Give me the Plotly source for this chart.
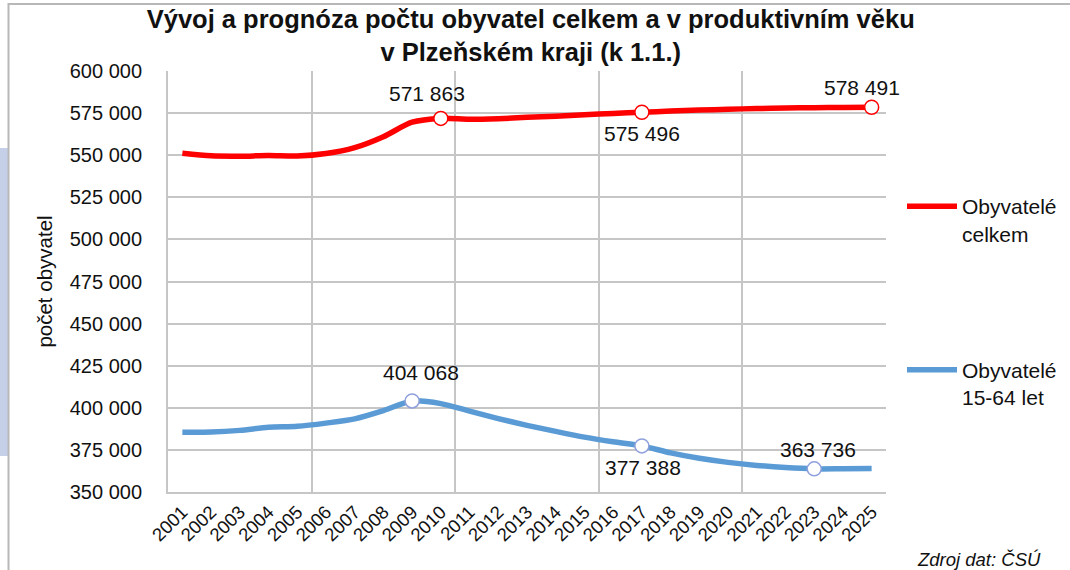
import plotly.graph_objects as go

years = ["2001", "2002", "2003", "2004", "2005", "2006", "2007", "2008", "2009", "2010",
         "2011", "2012", "2013", "2014", "2015", "2016", "2017", "2018", "2019", "2020",
         "2021", "2022", "2023", "2024", "2025"]
total = [551100, 549600, 549400, 549800, 549500, 551000, 554500, 561000, 569600, 571863,
         571300, 571700, 572500, 573200, 574000, 574800, 575496, 576200, 576800, 577300,
         577700, 578000, 578200, 578350, 578491]
working = [385500, 385600, 386600, 388400, 389000, 390900, 393400, 398300, 404068, 402500,
           398000, 393600, 389600, 386000, 382600, 379800, 377388, 373200, 370000, 367600,
           365800, 364500, 363736, 363800, 363950]
total_label_years = ["2010", "2017", "2025"]
working_label_years = ["2009", "2017", "2023"]

FONT = "Liberation Sans, Arial, sans-serif"
RED = "#ff0000"
BLUE = "#5b9bd5"
GRID = "#c6c6c6"

W, H = 1070, 570
L, R, T, B = 168, 886, 71, 492


def px_x(px):
    return (px - L) / (R - L)


def px_y(py):
    return (B - py) / (B - T)


fig = go.Figure()

fig.add_trace(go.Scatter(
    x=years, y=total, mode="lines", name="Obyvatelé<br>celkem",
    line=dict(color=RED, width=5.5, shape="spline", smoothing=0.8),
    legendgroup="a", hoverinfo="x+y"))
fig.add_trace(go.Scatter(
    x=years, y=working, mode="lines", name="Obyvatelé<br>15-64 let",
    line=dict(color=BLUE, width=5.5, shape="spline", smoothing=0.8),
    legendgroup="b", hoverinfo="x+y"))

tx = total_label_years
ty = [total[years.index(y)] for y in tx]
wx = working_label_years
wy = [working[years.index(y)] for y in wx]

fig.add_trace(go.Scatter(
    x=tx, y=ty, mode="markers", showlegend=False, cliponaxis=False,
    marker=dict(size=14, color="white", line=dict(color=RED, width=1.5))))
fig.add_trace(go.Scatter(
    x=wx, y=wy, mode="markers", showlegend=False, cliponaxis=False,
    marker=dict(size=14, color="white", line=dict(color="#8fa0dc", width=1.5))))

# overlay axis only for the vertical gridlines every 5 categories
fig.add_trace(go.Scatter(x=[], y=[], xaxis="x2", showlegend=False, hoverinfo="skip"))


def fmt(v):
    return f"{v:,}".replace(",", " ")


shifts_total = [(-14, 25), (0, -21), (-10, 20)]
shifts_work = [(9, 28), (1, -22), (4, 19)]
for (x, y), (xs, ys) in zip(zip(tx, ty), shifts_total):
    fig.add_annotation(x=years.index(x), y=y, text=fmt(y), showarrow=False,
                       xshift=xs, yshift=ys,
                       font=dict(family=FONT, size=21, color="#111111"))
for (x, y), (xs, ys) in zip(zip(wx, wy), shifts_work):
    fig.add_annotation(x=years.index(x), y=y, text=fmt(y), showarrow=False,
                       xshift=xs, yshift=ys,
                       font=dict(family=FONT, size=21, color="#111111"))

fig.add_annotation(xref="paper", yref="paper", x=px_x(1043), y=px_y(559),
                   xanchor="right", yanchor="middle", showarrow=False,
                   text="<i>Zdroj dat: ČSÚ</i>",
                   font=dict(family=FONT, size=18.5, color="#111111"))

# decorative frame elements
fig.add_shape(type="rect", xref="paper", yref="paper", x0=px_x(0), x1=px_x(8),
              y0=px_y(148), y1=px_y(456), fillcolor="#c5d0e8", line=dict(width=0), layer="below")
fig.add_shape(type="line", xref="paper", yref="paper", x0=px_x(8.5), x1=px_x(8.5),
              y0=px_y(3), y1=px_y(570), line=dict(color="#b8b8b8", width=2))
fig.add_shape(type="line", xref="paper", yref="paper", x0=px_x(8.5), x1=px_x(1070),
              y0=px_y(4), y1=px_y(4), line=dict(color="#b8b8b8", width=2))

fig.update_layout(
    width=W, height=H,
    margin=dict(l=L, r=W - R, t=T, b=H - B, autoexpand=False),
    paper_bgcolor="white", plot_bgcolor="white",
    separators=", ",
    font=dict(family=FONT, size=20, color="#111111"),
    title=dict(
        text="<b>Vývoj a prognóza počtu obyvatel celkem a v produktivním věku<br>v Plzeňském kraji (k 1.1.)</b>",
        x=0.496, xanchor="center", xref="container",
        y=0.9514, yanchor="top", yref="container",
        font=dict(family=FONT, size=25.5, color="#111111")),
    xaxis=dict(type="category", range=[-0.5, 24.5], showgrid=False,
               tickangle=-45, tickfont=dict(family=FONT, size=18.5),
               showline=True, linecolor=GRID, linewidth=2,
               ticks="", fixedrange=True),
    xaxis2=dict(overlaying="x", type="linear", range=[-0.5, 24.5], tick0=4.5, dtick=5,
                showgrid=True, gridcolor=GRID, gridwidth=2, showticklabels=False,
                zeroline=False, side="bottom", fixedrange=True),
    yaxis=dict(range=[350000, 600000], dtick=25000, tickformat=",d",
               showgrid=True, gridcolor=GRID, gridwidth=2,
               showline=True, linecolor=GRID, linewidth=2, zeroline=False,
               ticklabelstandoff=20, fixedrange=True,
               tickfont=dict(family=FONT, size=20),
               title=dict(text="počet obyvatel", standoff=12,
                          font=dict(family=FONT, size=20.5))),
    legend=dict(x=px_x(902), y=px_y(186), xanchor="left", yanchor="top",
                xref="paper", yref="paper", tracegroupgap=106, valign="top",
                font=dict(family=FONT, size=21), bgcolor="rgba(0,0,0,0)",
                itemwidth=50),
    showlegend=True,
)

fig.write_html("out.html", config={"displayModeBar": False},
               post_script="document.body.style.margin='0px';")
